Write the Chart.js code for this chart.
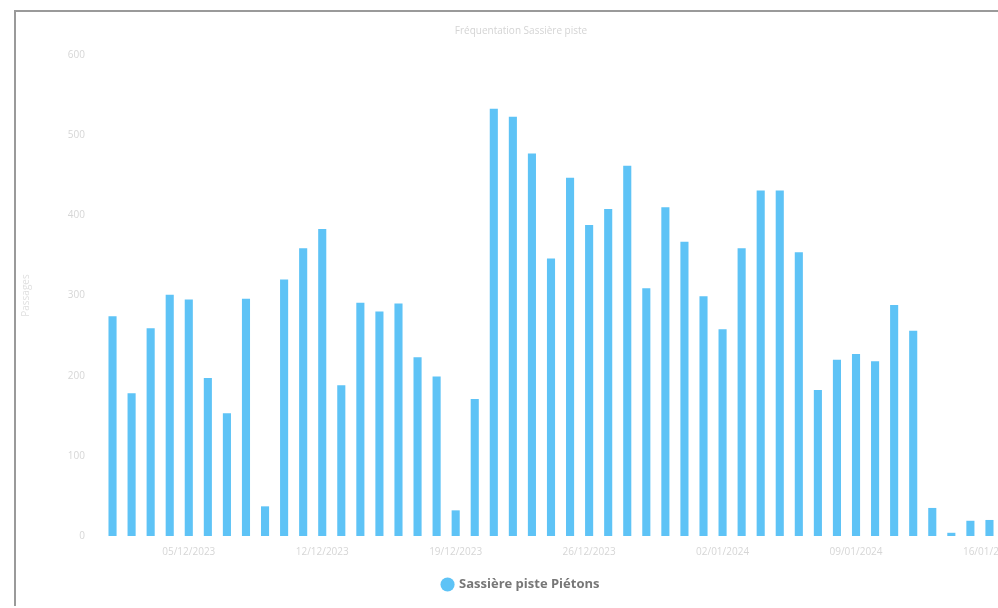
<!DOCTYPE html>
<html>
<head>
<meta charset="utf-8">
<script src="https://cdn.jsdelivr.net/npm/chart.js@4.4.1/dist/chart.umd.min.js"></script>
<style>
  html, body { margin: 0; padding: 0; background: #fff; overflow: hidden; width: 998px; height: 608px; }
  #wrap { position: absolute; left: 14px; top: 10px; width: 1012px; height: 596px; border-left: 2px solid #9a9a9a; border-top: 2px solid #9a9a9a; box-sizing: border-box; }
  canvas { display: block; }
</style>
</head>
<body>
<div id="wrap"><canvas id="c"></canvas></div>
<script>
const titleText = 'Fréquentation Sassière piste';
const seriesLabel = 'Sassière piste Piétons';
const yAxisTitle = 'Passages';
const categories = [
  '01/12/2023','02/12/2023','03/12/2023','04/12/2023','05/12/2023','06/12/2023','07/12/2023',
  '08/12/2023','09/12/2023','10/12/2023','11/12/2023','12/12/2023','13/12/2023','14/12/2023',
  '15/12/2023','16/12/2023','17/12/2023','18/12/2023','19/12/2023','20/12/2023','21/12/2023',
  '22/12/2023','23/12/2023','24/12/2023','25/12/2023','26/12/2023','27/12/2023','28/12/2023',
  '29/12/2023','30/12/2023','31/12/2023','01/01/2024','02/01/2024','03/01/2024','04/01/2024',
  '05/01/2024','06/01/2024','07/01/2024','08/01/2024','09/01/2024','10/01/2024','11/01/2024',
  '12/01/2024','13/01/2024','14/01/2024','15/01/2024','16/01/2024'
];
const values = [
  274, 178, 259, 301, 295, 197, 153, 296, 37, 320, 359, 383, 188, 291, 280, 290,
  223, 199, 32, 171, 533, 523, 477, 346, 447, 388, 408, 462, 309, 410, 367, 299,
  258, 359, 431, 431, 354, 182, 220, 227, 218, 288, 256, 35, 4, 19, 20
];
const yMin = 0, yMax = 600, yStep = 100;
const labelEvery = 7, labelOffset = 4;

const canvas = document.getElementById('c');
canvas.width = 1010; canvas.height = 594;

new Chart(canvas, {
  type: 'bar',
  data: {
    labels: categories,
    datasets: [{
      label: seriesLabel,
      data: values,
      backgroundColor: '#5ec3f6',
      borderWidth: 0,
      barPercentage: 0.5,
      categoryPercentage: 0.85
    }]
  },
  options: {
    responsive: false,
    animation: false,
    maintainAspectRatio: false,
    layout: { padding: { left: 0, right: 0, top: 0, bottom: 5 } },
    plugins: {
      title: {
        display: true,
        text: titleText,
        color: '#d4d4d4',
        font: { family: 'Open Sans', size: 10, weight: 'normal' },
        padding: { top: 13, bottom: 18 }
      },
      legend: {
        position: 'bottom',
        labels: {
          usePointStyle: true,
          pointStyle: 'circle',
          boxWidth: 10,
          boxHeight: 10,
          color: '#777',
          padding: 10,
          font: { family: 'Open Sans', size: 13, weight: 'bold' }
        }
      },
      tooltip: { enabled: false }
    },
    scales: {
      x: {
        grid: { display: false, drawTicks: false },
        border: { display: false },
        ticks: {
          autoSkip: false,
          maxRotation: 0,
          minRotation: 0,
          color: '#d6d6d6',
          padding: 10,
          font: { family: 'Open Sans', size: 10 },
          callback: function(v, i) { return (i % labelEvery === labelOffset) ? categories[i] : ''; }
        }
      },
      y: {
        min: yMin, max: yMax,
        grid: { display: false, drawTicks: false },
        border: { display: false },
        title: { display: true, text: yAxisTitle, color: '#e0e0e0', padding: { top: 4, bottom: 4 }, font: { family: 'Open Sans', size: 10 } },
        ticks: { stepSize: yStep, color: '#d6d6d6', padding: 18, font: { family: 'Open Sans', size: 10 } },
        afterFit: function(s) { s.width = 87; }
      }
    }
  }
});
</script>
</body>
</html>
